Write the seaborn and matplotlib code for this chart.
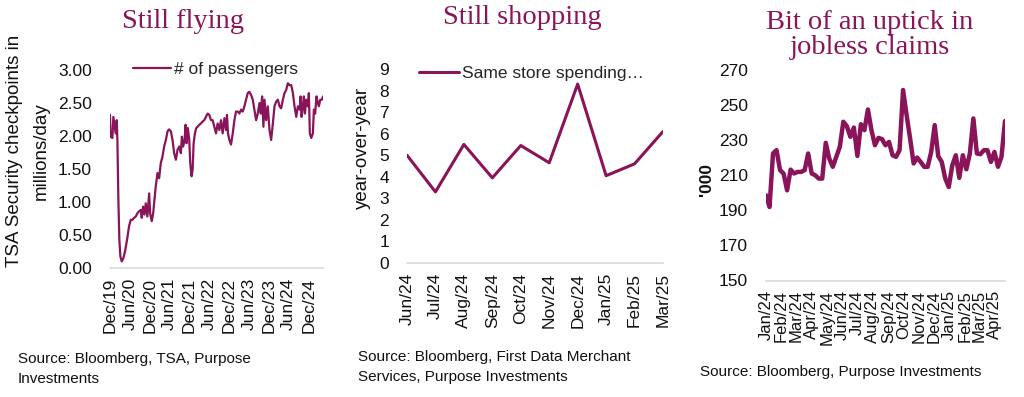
import numpy as np
import pandas as pd
import matplotlib
matplotlib.use("Agg")
import matplotlib.pyplot as plt
import matplotlib.dates as mdates
import seaborn as sns

# ---------------- data ----------------
tsa_start = "2019-12-31"
tsa_day_offsets = [0, 6, 22, 31, 43, 52, 62, 68, 77, 86, 95, 108, 123, 138, 157, 175, 191, 206,
                   221, 237, 252, 268, 283, 292, 304, 317, 329, 344, 360, 369, 384, 397, 409, 421,
                   437, 452, 467, 483, 498, 514, 529, 544, 560, 575, 590, 606, 621, 637, 652, 661,
                   673, 686, 695, 704, 716, 729, 738, 750, 760, 769, 781, 793, 806, 821, 836, 852,
                   867, 883, 898, 913, 929, 944, 959, 975, 990, 1006, 1021, 1036, 1052, 1067, 1076,
                   1085, 1098, 1113, 1129, 1144, 1159, 1175, 1190, 1205, 1221, 1236, 1252, 1267,
                   1282, 1298, 1313, 1328, 1344, 1359, 1375, 1387, 1399, 1411, 1421, 1436, 1451,
                   1467, 1482, 1498, 1513, 1528, 1544, 1559, 1574, 1590, 1605, 1621, 1636, 1651,
                   1667, 1682, 1697, 1713, 1728, 1744, 1753, 1762, 1774, 1783, 1793, 1805, 1820,
                   1829, 1838, 1851, 1866, 1875, 1887, 1899, 1912, 1921, 1934, 1950, 1959]
tsa_passengers = [2.32, 1.99, 1.97, 2.29, 2.14, 2.04, 2.24, 1.94, 1.03, 0.43, 0.18, 0.10, 0.15,
                  0.25, 0.43, 0.63, 0.73, 0.73, 0.76, 0.78, 0.83, 0.86, 0.88, 0.76, 0.93, 0.81,
                  0.98, 0.78, 1.13, 0.83, 0.71, 0.83, 1.03, 1.24, 1.44, 1.36, 1.59, 1.69, 1.84,
                  1.94, 2.07, 2.10, 2.07, 1.94, 1.74, 1.64, 1.79, 1.84, 1.74, 1.99, 1.84, 1.94,
                  2.17, 1.89, 2.12, 1.94, 1.59, 1.39, 1.49, 1.89, 2.04, 2.12, 2.14, 2.17, 2.19,
                  2.22, 2.24, 2.29, 2.34, 2.32, 2.24, 2.24, 2.14, 2.04, 2.19, 2.09, 2.24, 2.04,
                  2.27, 2.09, 2.32, 2.04, 1.94, 1.87, 2.04, 2.24, 2.37, 2.37, 2.34, 2.40, 2.37,
                  2.45, 2.55, 2.65, 2.67, 2.62, 2.55, 2.40, 2.24, 2.34, 2.50, 2.34, 2.60, 2.14,
                  2.55, 2.24, 2.45, 2.09, 1.94, 2.19, 2.45, 2.52, 2.55, 2.45, 2.42, 2.55, 2.65,
                  2.70, 2.80, 2.77, 2.77, 2.65, 2.45, 2.29, 2.45, 2.40, 2.60, 2.29, 2.45, 2.60,
                  2.34, 2.55, 2.45, 2.65, 2.04, 1.97, 2.04, 2.40, 2.34, 2.60, 2.50, 2.45, 2.55,
                  2.55, 2.60]
tsa_tick_dates = ["2019-12-31", "2020-06-30", "2020-12-31", "2021-06-30", "2021-12-31",
                  "2022-06-30", "2022-12-31", "2023-06-30", "2023-12-31", "2024-06-30",
                  "2024-12-31"]
tsa_tick_labels = ["Dec/19", "Jun/20", "Dec/20", "Jun/21", "Dec/21", "Jun/22", "Dec/22",
                   "Jun/23", "Dec/23", "Jun/24", "Dec/24"]

shop_months = ["Jun/24", "Jul/24", "Aug/24", "Sep/24", "Oct/24", "Nov/24", "Dec/24",
               "Jan/25", "Feb/25", "Mar/25"]
shop_spending = [5.0, 3.3, 5.5, 3.95, 5.45, 4.65, 8.3, 4.05, 4.6, 6.1]

claims_start = "2024-01-01"
claims_k = [198.6, 191.9, 222.4, 224.3, 212.9, 211.0, 201.4, 213.2, 211.0, 211.9,
            211.9, 212.9, 222.4, 211.0, 210.0, 208.1, 208.1, 228.5, 219.5, 214.8,
            220.5, 226.2, 240.5, 238.0, 231.9, 237.2, 221.0, 239.1, 235.7, 247.5,
            235.7, 227.1, 231.3, 230.6, 227.1, 229.0, 221.4, 220.5, 224.3, 258.6,
            244.3, 231.0, 216.7, 220.1, 217.6, 214.8, 214.8, 223.3, 238.6, 220.9,
            217.6, 208.1, 203.3, 215.7, 221.4, 208.5, 221.4, 213.4, 222.4, 242.4,
            222.4, 222.0, 224.3, 224.3, 217.6, 223.3, 214.8, 220.5, 240.9]
claims_tick_months = pd.date_range("2024-01-01", "2025-04-01", freq="MS")

# ---------------- style ----------------
COLOR = "#8A1459"
AXCOL = "#d9d9d9"
sns.set_style("white")
plt.rcParams["font.family"] = ["Liberation Sans", "DejaVu Sans"]
SERIF = ["Liberation Serif", "DejaVu Serif"]

W, H = 1024, 397
fig = plt.figure(figsize=(W / 100, H / 100), dpi=100)


def box(l, t, r, b):
    return [l / W, 1 - b / H, (r - l) / W, (b - t) / H]


def style(ax, ysize=12, xsize=12):
    for s in ["top", "right", "left"]:
        ax.spines[s].set_visible(False)
    ax.spines["bottom"].set_color(AXCOL)
    ax.spines["bottom"].set_linewidth(1.2)
    ax.tick_params(axis="x", length=5, width=1.2, color=AXCOL, direction="out", pad=2,
                   labelsize=xsize, labelrotation=90, labelcolor="#111111")
    ax.tick_params(axis="y", length=0, pad=13, labelsize=ysize, labelcolor="#111111")
    ax.grid(False)
    ax.set_xlabel("")
    ax.set_ylabel("")


# ---- panel 1: TSA ----
ax1 = fig.add_axes(box(110, 70, 323, 268))
df1 = pd.DataFrame({
    "date": pd.Timestamp(tsa_start) + pd.to_timedelta(tsa_day_offsets, unit="D"),
    "passengers": tsa_passengers,
})
sns.lineplot(data=df1, x="date", y="passengers", ax=ax1, color=COLOR, linewidth=1.6,
             label="# of passengers")
ax1.set_ylim(0, 3.0)
ax1.set_yticks(np.arange(0, 3.01, 0.5))
ax1.set_yticklabels([f"{v:.2f}" for v in np.arange(0, 3.01, 0.5)])
ax1.set_xlim(df1["date"].iloc[0], df1["date"].iloc[-1])
ax1.set_xticks(pd.to_datetime(tsa_tick_dates))
ax1.set_xticklabels(tsa_tick_labels)
style(ax1, ysize=12.5, xsize=12.5)
ax1.legend(loc="center left", bbox_to_anchor=(133 / W, 1 - 69 / H),
           bbox_transform=fig.transFigure, frameon=False, fontsize=12.5,
           handlelength=2.2, handletextpad=0.15, borderpad=0, borderaxespad=0)

fig.text(183 / W, 1 - 22 / H, "Still flying", ha="center", va="center", fontsize=20.5,
         family=SERIF, color=COLOR)
fig.text(15 / W, 1 - 151 / H, "TSA Security checkpoints in", rotation=90, ha="center",
         va="center", fontsize=13.5, color="#111111")
fig.text(41 / W, 1 - 151 / H, "millions/day", rotation=90, ha="center",
         va="center", fontsize=13.5, color="#111111")
fig.text(18 / W, 1 - 369 / H, "Source: Bloomberg, TSA, Purpose\nInvestments", ha="left",
         va="center", fontsize=11, linespacing=1.5, color="#111111")

# ---- panel 2: same store spending ----
ax2 = fig.add_axes(box(407, 69, 663, 263))
df2 = pd.DataFrame({"pos": np.arange(len(shop_months)), "spending": shop_spending})
sns.lineplot(data=df2, x="pos", y="spending", ax=ax2, color=COLOR, linewidth=2.2,
             label="Same store spending\u2026")
ax2.set_ylim(0, 9)
ax2.set_yticks(range(0, 10))
ax2.set_xlim(0, len(shop_months) - 1)
ax2.set_xticks(np.arange(len(shop_months)))
ax2.set_xticklabels(shop_months)
style(ax2, ysize=12.5, xsize=12.5)
ax2.legend(loc="center left", bbox_to_anchor=(419 / W, 1 - 73 / H),
           bbox_transform=fig.transFigure, frameon=False, fontsize=12.5,
           handlelength=2.3, handletextpad=0.15, borderpad=0, borderaxespad=0)

fig.text(522 / W, 1 - 18 / H, "Still shopping", ha="center", va="center", fontsize=20.5,
         family=SERIF, color=COLOR)
fig.text(362 / W, 1 - 148 / H, "year-over-year", rotation=90, ha="center", va="center",
         fontsize=13.5, color="#111111")
fig.text(358 / W, 1 - 367 / H, "Source: Bloomberg, First Data Merchant\nServices, Purpose Investments",
         ha="left", va="center", fontsize=11, linespacing=1.5, color="#111111")

# ---- panel 3: jobless claims ----
ax3 = fig.add_axes(box(766, 70, 1005, 280.5))
df3 = pd.DataFrame({
    "date": pd.date_range(claims_start, periods=len(claims_k), freq="7D"),
    "claims": claims_k,
})
sns.lineplot(data=df3, x="date", y="claims", ax=ax3, color=COLOR, linewidth=3.2)
ax3.set_ylim(150, 270)
ax3.set_yticks(range(150, 271, 20))
ax3.set_xlim(df3["date"].iloc[0], df3["date"].iloc[-1])
ax3.set_xticks(claims_tick_months)
ax3.set_xticklabels([d.strftime("%b/%y") for d in claims_tick_months])
style(ax3, ysize=12.5, xsize=12)
if ax3.get_legend() is not None:
    ax3.get_legend().remove()

fig.text(870 / W, 1 - 35 / H, "Bit of an uptick in\njobless claims", ha="center", va="center",
         fontsize=20.5, family=SERIF, color=COLOR, linespacing=1.05)
fig.text(706 / W, 1 - 180 / H, "'000", rotation=90, ha="center", va="center",
         fontsize=12.5, fontweight="bold", color="#111111")
fig.text(700 / W, 1 - 372 / H, "Source: Bloomberg, Purpose Investments", ha="left",
         va="center", fontsize=11, color="#111111")

fig.savefig("out.png", dpi=100, facecolor="white")
